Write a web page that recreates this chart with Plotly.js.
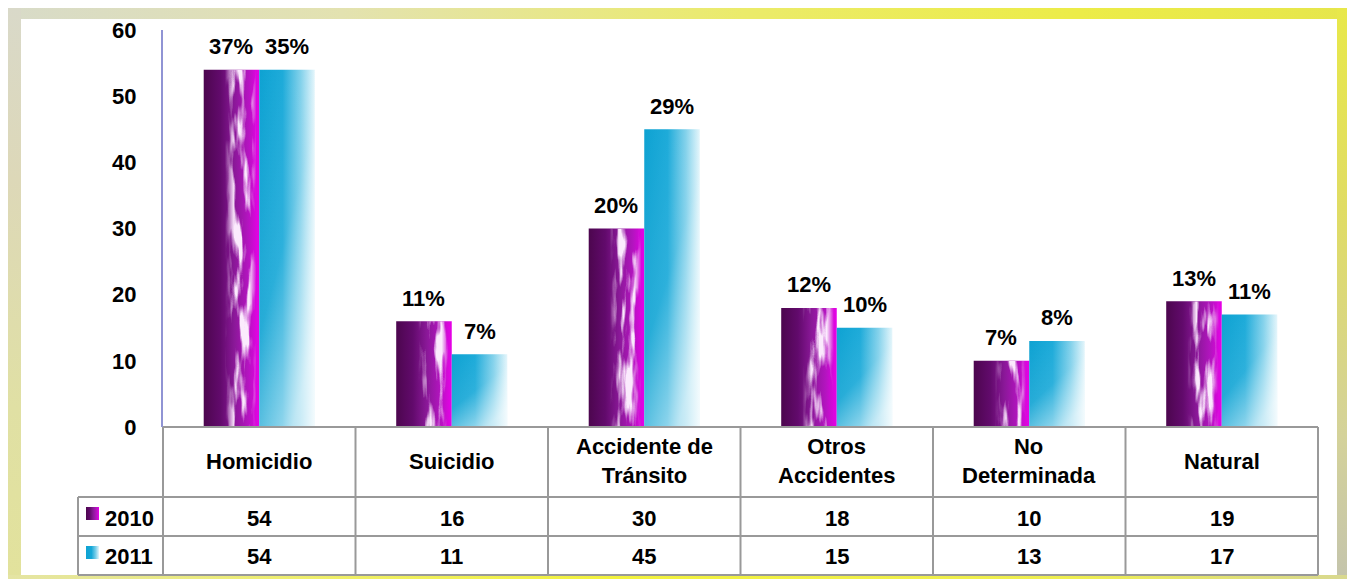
<!DOCTYPE html>
<html>
<head>
<meta charset="utf-8">
<script src="https://cdn.plot.ly/plotly-3.0.1.min.js"></script>
<style>
body{margin:0;background:#fff;}
#wrap{position:relative;width:1347px;height:579px;background:#fff;overflow:hidden;}
.b{position:absolute;}
#chart{position:absolute;left:0;top:0;width:1347px;height:579px;}
</style>
</head>
<body>
<div id="wrap">
  <div class="b" style="left:8px;top:8px;width:1339px;height:11px;background:linear-gradient(90deg,#d8dbc8 0%,#e3e2b0 25%,#ebeb6a 55%,#ecec48 80%,#e6e64c 100%);"></div>
  <div class="b" style="left:8px;top:8px;width:13px;height:571px;background:linear-gradient(180deg,#d9d9c9 0%,#ddd8b8 30%,#e0e0a4 70%,#e2e29c 100%);"></div>
  <div class="b" style="left:1337px;top:8px;width:10px;height:571px;background:linear-gradient(180deg,#e8e84a 0%,#e0dc64 35%,#d4d29a 75%,#c4c4ac 100%);"></div>
  <div class="b" style="left:8px;top:575px;width:1339px;height:4px;background:linear-gradient(90deg,#e4e4a4 0%,#eeee70 20%,#f2f23c 45%,#eeee50 80%,#d8d890 100%);"></div>
  <div id="chart"></div>
</div>
<script>
// ---- data ----
const categories = ['Homicidio','Suicidio','Accidente de Tránsito','Otros Accidentes','No Determinada','Natural'];
const headerLabels = ['Homicidio','Suicidio','Accidente de<br>Tránsito','Otros<br>Accidentes','No<br>Determinada','Natural'];
const seriesNames = ['2010','2011'];
const values2010 = [54,16,30,18,10,19];
const values2011 = [54,11,45,15,13,17];
const pct2010 = ['37%','11%','20%','12%','7%','13%'];
const pct2011 = ['35%','7%','29%','10%','8%','11%'];
const yTickVals = [0,10,20,30,40,50,60];

// ---- geometry helpers (pixel -> paper) ----
const W = 1347, H = 579;
const L = 163, R = 1318, T = 30, B = 427;
const px = p => (p - L) / (R - L);
const py = p => (B - p) / (B - T);
const FONT = 'Liberation Sans, Arial, sans-serif';
const LINE = '#999999';

const traces = [
  {type:'bar', name:seriesNames[0], x:categories, y:values2010, marker:{color:'#8a108a', line:{width:0}}, hoverinfo:'skip'},
  {type:'bar', name:seriesNames[1], x:categories, y:values2011, marker:{color:'#1aa8d8', line:{width:0}}, hoverinfo:'skip'}
];

const shapes = [];
const annotations = [];
function hline(y, x0, x1){ shapes.push({type:'line', xref:'paper', yref:'paper', x0:px(x0), x1:px(x1), y0:py(y), y1:py(y), line:{color:LINE, width:2}}); }
function vline(x, y0, y1){ shapes.push({type:'line', xref:'paper', yref:'paper', x0:px(x), x1:px(x), y0:py(y0), y1:py(y1), line:{color:LINE, width:2}}); }

const colW = (R - L) / categories.length;
hline(427, L, R);
hline(497, 78, R);
hline(536, 78, R);
hline(575, 78, R);
vline(78, 497, 575);
for (let i = 0; i <= categories.length; i++) vline(L + i*colW, 427, 575);

// legend swatches
shapes.push({type:'rect', xref:'paper', yref:'paper', x0:px(86), x1:px(99), y0:py(520), y1:py(507), fillcolor:'#8a108b', line:{width:0}});
shapes.push({type:'rect', xref:'paper', yref:'paper', x0:px(86), x1:px(99), y0:py(559), y1:py(546), fillcolor:'#1aa8d9', line:{width:0}});

const tf = {family:FONT, size:22, color:'#000000', weight:'bold'};
annotations.push({xref:'paper', yref:'paper', x:px(103), y:py(518), xanchor:'left', yanchor:'middle', text:'<b>'+seriesNames[0]+'</b>', showarrow:false, font:tf});
annotations.push({xref:'paper', yref:'paper', x:px(103), y:py(556), xanchor:'left', yanchor:'middle', text:'<b>'+seriesNames[1]+'</b>', showarrow:false, font:tf});

const barHalf = colW * (1 - 0.423) / 4;
categories.forEach((c, i) => {
  annotations.push({xref:'x', yref:'paper', x:c, y:py(461), xanchor:'center', yanchor:'middle', text:'<b>'+headerLabels[i].replace('<br>','</b><br><b>')+'</b>', showarrow:false, font:tf});
  annotations.push({xref:'x', yref:'paper', x:c, y:py(518), xanchor:'center', yanchor:'middle', text:'<b>'+values2010[i]+'</b>', showarrow:false, font:tf});
  annotations.push({xref:'x', yref:'paper', x:c, y:py(556), xanchor:'center', yanchor:'middle', text:'<b>'+values2011[i]+'</b>', showarrow:false, font:tf});
  annotations.push({xref:'x', yref:'y', x:c, y:values2010[i], xshift:-barHalf, yshift:23, xanchor:'center', yanchor:'middle', text:'<b>'+pct2010[i]+'</b>', showarrow:false, font:tf});
  annotations.push({xref:'x', yref:'y', x:c, y:values2011[i], xshift:barHalf, yshift:23, xanchor:'center', yanchor:'middle', text:'<b>'+pct2011[i]+'</b>', showarrow:false, font:tf});
});

const layout = {
  width:W, height:H,
  margin:{l:L, r:W-R, t:T, b:H-B, pad:0},
  paper_bgcolor:'rgba(0,0,0,0)', plot_bgcolor:'rgba(0,0,0,0)',
  barmode:'group', bargap:0.423, bargroupgap:0,
  showlegend:false,
  font:{family:FONT, color:'#000'},
  xaxis:{type:'category', showticklabels:false, ticks:'', showgrid:false, zeroline:false, showline:false},
  yaxis:{range:[0,60], tickvals:yTickVals, ticktext:yTickVals.map(v=>'<b>'+v+'</b>'), showgrid:false, zeroline:false,
         showline:true, linecolor:'#9094d4', linewidth:2, ticks:'', ticklabelstandoff:20,
         tickfont:{family:FONT, size:22, color:'#000', weight:'bold'}},
  shapes:shapes, annotations:annotations
};

Plotly.newPlot('chart', traces, layout, {staticPlot:true, displayModeBar:false}).then(gd => {
  const svg = gd.querySelector('.main-svg');
  const NS = 'http://www.w3.org/2000/svg';
  let defs = svg.querySelector('defs');
  if (!defs) { defs = document.createElementNS(NS,'defs'); svg.insertBefore(defs, svg.firstChild); }
  function el(tag, attrs, parent){ const e = document.createElementNS(NS, tag); for (const k in attrs) e.setAttribute(k, attrs[k]); (parent||defs).appendChild(e); return e; }
  function grad(id, stops, dir){
    const d = dir || [0,0,1,0];
    const g = el('linearGradient', {id:id, x1:d[0], y1:d[1], x2:d[2], y2:d[3]});
    stops.forEach(s => el('stop', {offset:s[0], 'stop-color':s[1], 'stop-opacity': s[2] === undefined ? 1 : s[2]}, g));
  }
  grad('g2010', [[0,'#4c064e'],[0.3,'#620a6c'],[0.55,'#8a1898'],[0.8,'#b414c0'],[0.92,'#d408d8'],[1,'#e800e8']]);
  grad('g2011', [[0,'#0ea2d2'],[0.42,'#16a8d8'],[0.75,'#7ccfea'],[1,'#e2f5fb']]);
  grad('g2011w', [[0,'#ffffff',0],[0.55,'#ffffff',0.1],[1,'#ffffff',0.6]], [0,0,0.6,1]);
  grad('gmask', [[0,'#000'],[0.38,'#000'],[0.55,'#fff'],[0.82,'#fff'],[0.95,'#000'],[1,'#000']]);
  const mask = el('mask', {id:'m2010', maskContentUnits:'objectBoundingBox'});
  el('rect', {x:0, y:0, width:1, height:1, fill:'url(#gmask)'}, mask);
  const filt = el('filter', {id:'streak', x:0, y:0, width:1, height:1});
  el('feTurbulence', {type:'fractalNoise', baseFrequency:'0.11 0.018', numOctaves:3, seed:7, result:'n'}, filt);
  el('feColorMatrix', {in:'n', type:'matrix', values:'0 0 0 0 0.96  0 0 0 0 0.82  0 0 0 0 0.98  5 0 0 0 -2.3', result:'a'}, filt);
  el('feComposite', {in:'a', in2:'SourceGraphic', operator:'in'}, filt);

  const tr = gd.querySelectorAll('.barlayer .trace');
  tr.forEach((t, i) => {
    t.querySelectorAll('path').forEach(p => {
      p.style.fill = 'url(#' + (i === 0 ? 'g2010' : 'g2011') + ')';
      const c = p.cloneNode(false);
      if (i === 0) {
        c.style.fill = '#ffffff';
        c.setAttribute('filter', 'url(#streak)');
        c.setAttribute('mask', 'url(#m2010)');
      } else {
        c.style.fill = 'url(#g2011w)';
      }
      p.parentNode.insertBefore(c, p.nextSibling);
    });
  });
  gd.querySelectorAll('.shapelayer path').forEach(p => {
    const f = p.style.fill;
    if (f === 'rgb(138, 16, 139)') p.style.fill = 'url(#g2010)';
    if (f === 'rgb(26, 168, 217)') p.style.fill = 'url(#g2011)';
  });
});
</script>
</body>
</html>
